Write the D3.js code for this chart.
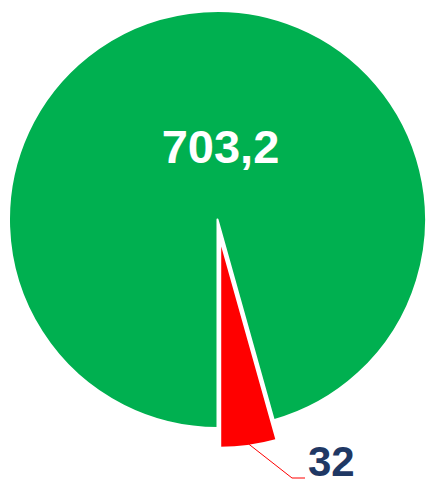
<!DOCTYPE html>
<html>
<head>
<meta charset="utf-8">
<script src="https://cdn.jsdelivr.net/npm/d3@7"></script>
<style>
  body { margin: 0; background: #fff; }
</style>
</head>
<body>
<script>
var labels = ["703,2", "32"];
var values = [703.2, 32];
var colors = ["#00B050", "#FF0000"];

var w = 426;
var h = 485;
var cx = 217.5, cy = 219.5, r = 208.5;

var svg = d3.select("body")
    .append("svg")
    .attr("width", w)
    .attr("height", h);

// green starts at 6 o'clock and goes clockwise
var pie = d3.pie()
    .sort(null)
    .startAngle(Math.PI)
    .endAngle(3 * Math.PI);

var arcs = pie(values);

var arc = d3.arc()
    .innerRadius(0)
    .outerRadius(r);

// explode distance for the small slice
var explode = [0, 20];

var g = svg.append("g")
    .attr("transform", "translate(" + cx + "," + cy + ")");

g.selectAll("path")
    .data(arcs)
    .enter()
    .append("path")
    .attr("d", arc)
    .attr("fill", function(d, i) { return colors[i]; })
    .attr("stroke", "#fff")
    .attr("stroke-width", 2)
    .attr("stroke-linejoin", "round")
    .attr("transform", function(d, i) {
        var a = (d.startAngle + d.endAngle) / 2;
        return "translate(" + (Math.sin(a) * explode[i]) + "," + (-Math.cos(a) * explode[i]) + ")";
    });

// big label inside the green slice
g.append("text")
    .attr("x", 3)
    .attr("y", 163 - cy)
    .attr("text-anchor", "middle")
    .attr("fill", "#fff")
    .style("font-family", "'Liberation Sans', Arial, sans-serif")
    .style("font-weight", "bold")
    .style("font-size", "47px")
    .text(labels[0]);

// leader line for the small slice
var red = arcs[1];
var ra = (red.startAngle + red.endAngle) / 2;
var ox = Math.sin(ra) * explode[1], oy = -Math.cos(ra) * explode[1];
var p0 = [ox + Math.sin(ra) * r * 0.99, oy - Math.cos(ra) * r * 0.99];
var p1 = [292 - cx, 478 - cy];
var p2 = [305 - cx, 478 - cy];

g.append("polyline")
    .attr("points", [p0, p1, p2].map(function(p) { return p.join(","); }).join(" "))
    .attr("fill", "none")
    .attr("stroke", "#FF0000")
    .attr("stroke-width", 1);

g.append("text")
    .attr("x", 308 - cx)
    .attr("y", 476 - cy)
    .attr("fill", "#1F3864")
    .style("font-family", "'Liberation Sans', Arial, sans-serif")
    .style("font-weight", "bold")
    .style("font-size", "42px")
    .text(labels[1]);
</script>
</body>
</html>
